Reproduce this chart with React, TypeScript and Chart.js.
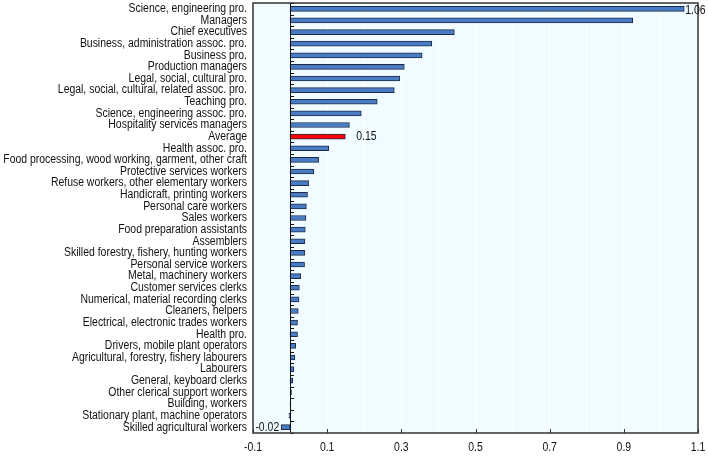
import React, { useEffect, useRef } from "react";
import { Chart, registerables } from "chart.js";

Chart.register(...registerables);

const categories = [
  "Science, engineering pro.",
  "Managers",
  "Chief executives",
  "Business, administration assoc. pro.",
  "Business pro.",
  "Production managers",
  "Legal, social, cultural pro.",
  "Legal, social, cultural, related assoc. pro.",
  "Teaching pro.",
  "Science, engineering assoc. pro.",
  "Hospitality services managers",
  "Average",
  "Health assoc. pro.",
  "Food processing, wood working, garment, other craft",
  "Protective services workers",
  "Refuse workers, other elementary workers",
  "Handicraft, printing workers",
  "Personal care workers",
  "Sales workers",
  "Food preparation assistants",
  "Assemblers",
  "Skilled forestry, fishery, hunting workers",
  "Personal service workers",
  "Metal, machinery workers",
  "Customer services clerks",
  "Numerical, material recording clerks",
  "Cleaners, helpers",
  "Electrical, electronic trades workers",
  "Health pro.",
  "Drivers, mobile plant operators",
  "Agricultural, forestry, fishery labourers",
  "Labourers",
  "General, keyboard clerks",
  "Other clerical support workers",
  "Building, workers",
  "Stationary plant, machine operators",
  "Skilled agricultural workers",
];

const values = [
  1.063, 0.924, 0.443, 0.382, 0.356, 0.308, 0.296, 0.281, 0.235, 0.192, 0.16,
  0.149, 0.104, 0.077, 0.064, 0.05, 0.047, 0.044, 0.043, 0.041, 0.04, 0.04,
  0.039, 0.029, 0.025, 0.024, 0.022, 0.02, 0.02, 0.015, 0.013, 0.01, 0.007,
  0.004, 0.002, -0.003, -0.024,
];

const highlightCategory = "Average";
const labeledCategories = [
  "Science, engineering pro.",
  "Average",
  "Skilled agricultural workers",
];
const xTickLabels = [-0.1, 0.1, 0.3, 0.5, 0.7, 0.9, 1.1];
const xMin = -0.1;
const xMax = 1.1;
const xStep = 0.1;

const FONT = "'Liberation Sans', Arial, sans-serif";
const FONT_SIZE = 12;
const SCALE_X = 0.87;
const TEXT_COLOR = "#111111";
const BLUE = "#4a7cc4";
const RED = "#ff0000";
const BAR_BORDER = "#1c2a4a";
const BG = "#f0fcff";
const FRAME = "#333333";

const isLabeledTick = (v: number) =>
  xTickLabels.some((t) => Math.abs(t - v) < 1e-6);

function drawText(
  ctx: CanvasRenderingContext2D,
  txt: string,
  x: number,
  y: number,
  align: CanvasTextAlign
) {
  ctx.save();
  ctx.translate(x, y);
  ctx.scale(SCALE_X, 1);
  ctx.textAlign = align;
  ctx.textBaseline = "middle";
  ctx.font = `${FONT_SIZE}px ${FONT}`;
  ctx.fillStyle = TEXT_COLOR;
  ctx.fillText(txt, 0, 0);
  ctx.restore();
}

const decorPlugin = {
  id: "decor",
  beforeDraw(chart: any) {
    const { ctx, chartArea } = chart;
    ctx.save();
    ctx.fillStyle = BG;
    ctx.fillRect(
      chartArea.left,
      chartArea.top,
      chartArea.right - chartArea.left,
      chartArea.bottom - chartArea.top
    );
    ctx.restore();
  },
  afterDatasetsDraw(chart: any) {
    const { ctx, chartArea, scales } = chart;
    const xs = scales.x;
    const ys = scales.y;
    ctx.save();
    // zero axis
    const x0 = Math.round(xs.getPixelForValue(0)) + 0.5;
    ctx.strokeStyle = "#111";
    ctx.lineWidth = 1;
    ctx.beginPath();
    ctx.moveTo(x0, chartArea.top);
    ctx.lineTo(x0, chartArea.bottom);
    ctx.stroke();
    // category boundary ticks
    const n = categories.length;
    const step = ys.getPixelForValue(1) - ys.getPixelForValue(0);
    ctx.beginPath();
    for (let i = 0; i <= n; i++) {
      const y = Math.round(ys.getPixelForValue(i) - step / 2) + 0.5;
      ctx.moveTo(x0, y);
      ctx.lineTo(x0 + 3.5, y);
    }
    ctx.stroke();
    // bottom ticks
    ctx.strokeStyle = FRAME;
    ctx.beginPath();
    xs.ticks.forEach((t: any) => {
      if (!isLabeledTick(t.value)) return;
      const x = Math.round(xs.getPixelForValue(t.value)) + 0.5;
      ctx.moveTo(x, chartArea.bottom);
      ctx.lineTo(x, chartArea.bottom - 4);
    });
    ctx.stroke();
    // frame
    ctx.lineWidth = 1.5;
    ctx.strokeStyle = FRAME;
    ctx.strokeRect(
      chartArea.left,
      chartArea.top,
      chartArea.right - chartArea.left,
      chartArea.bottom - chartArea.top
    );
    ctx.restore();

    // category labels
    categories.forEach((c, i) => {
      drawText(ctx, c, chartArea.left - 6, ys.getPixelForValue(i), "right");
    });
    // x tick labels
    xs.ticks.forEach((t: any) => {
      if (!isLabeledTick(t.value)) return;
      const lbl = String(Math.round(t.value * 10) / 10);
      drawText(ctx, lbl, xs.getPixelForValue(t.value), chartArea.bottom + 15, "center");
    });
    // value labels
    const meta = chart.getDatasetMeta(0);
    labeledCategories.forEach((c) => {
      const i = categories.indexOf(c);
      if (i < 0) return;
      const el = meta.data[i];
      const v = values[i];
      const txt = v.toFixed(2);
      if (v >= 0) {
        const gap = c === highlightCategory ? 11 : 1;
        drawText(ctx, txt, el.x + gap, el.y + (i === 0 ? 2 : 0), "left");
      } else {
        drawText(ctx, txt, el.x - 2, el.y, "right");
      }
    });
  },
};

export default function App() {
  const ref = useRef<HTMLCanvasElement>(null);

  useEffect(() => {
    if (!ref.current) return;
    const chart = new Chart(ref.current, {
      type: "bar",
      data: {
        labels: categories,
        datasets: [
          {
            data: values,
            backgroundColor: categories.map((c) =>
              c === highlightCategory ? RED : BLUE
            ),
            borderColor: BAR_BORDER,
            borderWidth: 1,
            barThickness: 5,
            borderSkipped: false,
          },
        ],
      },
      options: {
        indexAxis: "y",
        animation: false,
        responsive: true,
        maintainAspectRatio: false,
        layout: { padding: { top: 3, right: 10, left: 0, bottom: 0 } },
        plugins: {
          legend: { display: false },
          tooltip: { enabled: false },
        },
        scales: {
          x: {
            type: "linear",
            min: xMin,
            max: xMax,
            ticks: {
              display: false,
              stepSize: xStep,
              autoSkip: false,
            },
            grid: {
              color: "#ffffff",
              lineWidth: 1,
              drawTicks: false,
            },
            border: { display: false },
            afterFit: (s: any) => {
              s.height = 23;
            },
          },
          y: {
            type: "category",
            offset: true,
            ticks: { display: false, autoSkip: false },
            grid: { display: false, drawTicks: false },
            border: { display: false },
            afterFit: (s: any) => {
              s.width = 253;
            },
          },
        },
      },
      plugins: [decorPlugin],
    });
    return () => chart.destroy();
  }, []);

  return (
    <div
      style={{
        position: "fixed",
        left: 0,
        top: 0,
        width: 708,
        height: 456,
        background: "#fff",
      }}
    >
      <canvas ref={ref} />
    </div>
  );
}
